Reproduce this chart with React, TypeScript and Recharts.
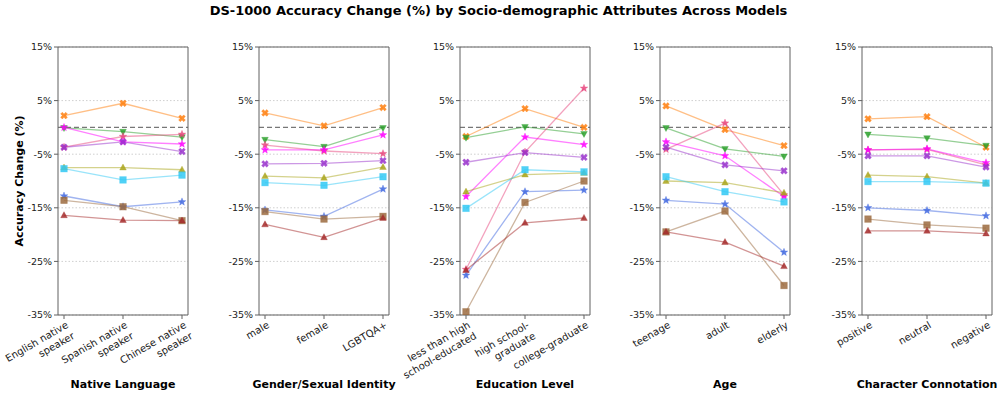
import React from 'react'
import { CartesianGrid, Line, LineChart, ReferenceLine, XAxis, YAxis } from 'recharts'

const chartTitle = 'DS-1000 Accuracy Change (%) by Socio-demographic Attributes Across Models'
const yAxisLabel = 'Accuracy Change (%)'

const panelTitles = ['Native Language', 'Gender/Sexual Identity', 'Education Level', 'Age', 'Character Connotation']

const nativeLanguageCats = ['English native\nspeaker', 'Spanish native\nspeaker', 'Chinese native\nspeaker']
const genderCats = ['male', 'female', 'LGBTQA+']
const educationCats = ['less than high\nschool-educated', 'high school-\ngraduate', 'college-graduate']
const ageCats = ['teenage', 'adult', 'elderly']
const connotationCats = ['positive', 'neutral', 'negative']
const panelCategories = [nativeLanguageCats, genderCats, educationCats, ageCats, connotationCats]

const yTicks = [15, 5, -5, -15, -25, -35]

// one array per model, one triple per panel (values in %)
const orangeModel = [[2.2, 4.5, 1.7], [2.7, 0.3, 3.7], [-1.7, 3.5, 0.0], [4.0, -0.4, -3.4], [1.6, 2.0, -3.7]]
const greenModel = [[-0.1, -0.8, -1.8], [-2.3, -3.6, -0.1], [-1.9, 0.1, -1.2], [-0.1, -4.0, -5.4], [-1.3, -2.0, -3.4]]
const pinkModel = [[-3.7, -1.7, -1.3], [-3.3, -4.4, -4.9], [-26.5, -4.6, 7.3], [-4.1, 0.8, -12.6], [-4.2, -4.1, -7.0]]
const magentaModel = [[0.0, -2.7, -3.1], [-4.2, -4.2, -1.4], [-12.9, -1.8, -3.2], [-2.7, -5.3, -12.9], [-4.2, -4.0, -6.6]]
const purpleModel = [[-3.7, -2.7, -4.5], [-6.8, -6.7, -6.2], [-6.5, -4.7, -5.6], [-3.7, -7.0, -8.1], [-5.3, -5.3, -7.4]]
const oliveModel = [[-7.5, -7.5, -7.9], [-9.1, -9.4, -7.4], [-12.0, -8.8, -8.5], [-10.0, -10.3, -12.2], [-8.9, -9.2, -10.4]]
const cyanModel = [[-7.7, -9.8, -8.9], [-10.3, -10.8, -9.2], [-15.1, -7.9, -8.3], [-9.2, -12.0, -13.9], [-10.1, -10.1, -10.4]]
const blueModel = [[-12.8, -14.8, -13.9], [-15.4, -16.6, -11.5], [-27.6, -12.0, -11.7], [-13.6, -14.3, -23.3], [-15.0, -15.5, -16.5]]
const brownModel = [[-13.6, -14.8, -17.4], [-15.7, -17.1, -16.6], [-34.4, -14.0, -10.0], [-19.5, -15.6, -29.5], [-17.1, -18.2, -18.8]]
const darkRedModel = [[-16.4, -17.3, -17.4], [-18.1, -20.5, -16.9], [-26.6, -17.8, -16.9], [-19.5, -21.4, -25.9], [-19.3, -19.3, -19.8]]

const models = [orangeModel, greenModel, pinkModel, magentaModel, purpleModel, oliveModel, cyanModel, blueModel, brownModel, darkRedModel]

const seriesStyles = [
  { color: '#ff7f0e', marker: 'x' },
  { color: '#2ca02c', marker: 'v' },
  { color: '#e8457d', marker: 'star' },
  { color: '#ff00ff', marker: 'star' },
  { color: '#9932cc', marker: 'x' },
  { color: '#a9a51a', marker: '^' },
  { color: '#33c9f5', marker: 's' },
  { color: '#4169e1', marker: 'star' },
  { color: '#9c6b3f', marker: 's' },
  { color: '#a52a2a', marker: '^' },
]

const FONT = 'DejaVu Sans, sans-serif'
const SPINE = '#606060'
const PLOT_TOP = 47
const PLOT_HEIGHT = 268
const PLOT_WIDTH = 130
const Y_AXIS_W = 50
const panelLefts = [58, 259, 460, 660, 862]

function starPoints(cx: number, cy: number, r: number) {
  const pts: string[] = []
  for (let i = 0; i < 10; i++) {
    const rad = i % 2 === 0 ? r : r * 0.42
    const a = -Math.PI / 2 + (i * Math.PI) / 5
    pts.push(`${cx + rad * Math.cos(a)},${cy + rad * Math.sin(a)}`)
  }
  return pts.join(' ')
}

function renderMarker(marker: string, color: string) {
  return (props: any) => {
    const { cx, cy, index } = props
    const key = `m-${index}`
    if (cx == null || cy == null) return <g key={key} />
    const common = { fill: color, fillOpacity: 0.85, stroke: color, strokeOpacity: 0.4, strokeWidth: 0.8 }
    if (marker === 's') return <rect key={key} x={cx - 3.3} y={cy - 3.3} width={6.6} height={6.6} {...common} />
    if (marker === '^')
      return <polygon key={key} points={`${cx},${cy - 3.6} ${cx + 3.3},${cy + 2.4} ${cx - 3.3},${cy + 2.4}`} {...common} />
    if (marker === 'v')
      return <polygon key={key} points={`${cx},${cy + 3.6} ${cx + 3.3},${cy - 2.4} ${cx - 3.3},${cy - 2.4}`} {...common} />
    if (marker === 'star') return <polygon key={key} points={starPoints(cx, cy, 4)} {...common} />
    // filled X
    const s = 3.4
    const t = 1.7
    const d = `M${cx - s},${cy - s + t} L${cx - s + t},${cy - s} L${cx},${cy - t} L${cx + s - t},${cy - s} L${cx + s},${cy - s + t} L${cx + t},${cy} L${cx + s},${cy + s - t} L${cx + s - t},${cy + s} L${cx},${cy + t} L${cx - s + t},${cy + s} L${cx - s},${cy + s - t} L${cx - t},${cy} Z`
    return <path key={key} d={d} {...common} />
  }
}

function RotatedTick(props: any) {
  const { x, y, payload } = props
  const lines = String(payload.value).split('\n')
  const f = 10
  const lh = f * 1.25
  return (
    <g transform={`translate(${x + 5},${y + 0.6 * f})`}>
      <text transform="rotate(-30)" textAnchor="end" fontSize={f} fill="#222" fontFamily={FONT}>
        {lines.map((l, i) => (
          <tspan key={i} x={0} dy={i === 0 ? 0 : lh}>
            {l}
          </tspan>
        ))}
      </text>
    </g>
  )
}

function Panel({ index }: { index: number }) {
  const cats = panelCategories[index]
  const data = cats.map((c, ci) => {
    const row: Record<string, number | string> = { cat: c }
    models.forEach((m, mi) => {
      row[`m${mi}`] = m[index][ci]
    })
    return row
  })
  const chartW = Y_AXIS_W + PLOT_WIDTH + 5
  return (
    <div style={{ position: 'absolute', left: panelLefts[index] - Y_AXIS_W, top: 0 }}>
      <LineChart width={chartW} height={396} data={data} margin={{ top: PLOT_TOP, right: 4, left: 0, bottom: 0 }}>
        <CartesianGrid vertical={false} stroke="#cfcfcf" strokeDasharray="1.5 2" />
        <XAxis
          dataKey="cat"
          type="category"
          interval={0}
          padding={{ left: 6, right: 6 }}
          height={396 - PLOT_TOP - PLOT_HEIGHT}
          stroke={SPINE}
          tickSize={4}
          tickMargin={2}
          tick={<RotatedTick />}
          label={{
            value: panelTitles[index],
            position: 'insideBottom',
            offset: 8,
            fill: '#000',
            fontSize: 11,
            fontWeight: 'bold',
            fontFamily: FONT,
          }}
        />
        <YAxis
          type="number"
          domain={[-35, 15]}
          ticks={yTicks}
          interval={0}
          width={Y_AXIS_W}
          stroke={SPINE}
          tickSize={4}
          tickMargin={2}
          tick={{ fill: '#222', fontSize: 9.5, fontFamily: FONT }}
          tickFormatter={(v) => `${v}%`}
          allowDataOverflow
        />
        <YAxis
          yAxisId="right"
          orientation="right"
          type="number"
          domain={[-35, 15]}
          ticks={yTicks}
          width={1}
          tick={false}
          tickLine={false}
          stroke={SPINE}
        />
        <ReferenceLine y={15} stroke={SPINE} ifOverflow="visible" />
        <ReferenceLine y={0} stroke="#777" strokeDasharray="5 3" strokeWidth={1.3} />
        {seriesStyles.map((s, i) => (
          <Line
            key={i}
            type="linear"
            dataKey={`m${i}`}
            stroke={s.color}
            strokeOpacity={0.5}
            strokeWidth={1.3}
            dot={renderMarker(s.marker, s.color)}
            activeDot={false}
            isAnimationActive={false}
          />
        ))}
      </LineChart>
    </div>
  )
}

export default function App() {
  return (
    <div style={{ position: 'absolute', left: 0, top: 0, width: 997, height: 396, background: '#fff', fontFamily: FONT }}>
      <style>{'svg.recharts-surface { overflow: visible; } .recharts-wrapper { overflow: visible; }'}</style>
      <div
        style={{
          position: 'absolute',
          top: 3,
          left: 0,
          width: 997,
          textAlign: 'center',
          fontSize: 13,
          fontWeight: 'bold',
          lineHeight: '16px',
        }}
      >
        {chartTitle}
      </div>
      <div
        style={{
          position: 'absolute',
          left: 19,
          top: 181,
          transform: 'translate(-50%, -50%) rotate(-90deg)',
          whiteSpace: 'nowrap',
          fontSize: 11,
          fontWeight: 'bold',
        }}
      >
        {yAxisLabel}
      </div>
      {panelTitles.map((_, i) => (
        <Panel key={i} index={i} />
      ))}
    </div>
  )
}
